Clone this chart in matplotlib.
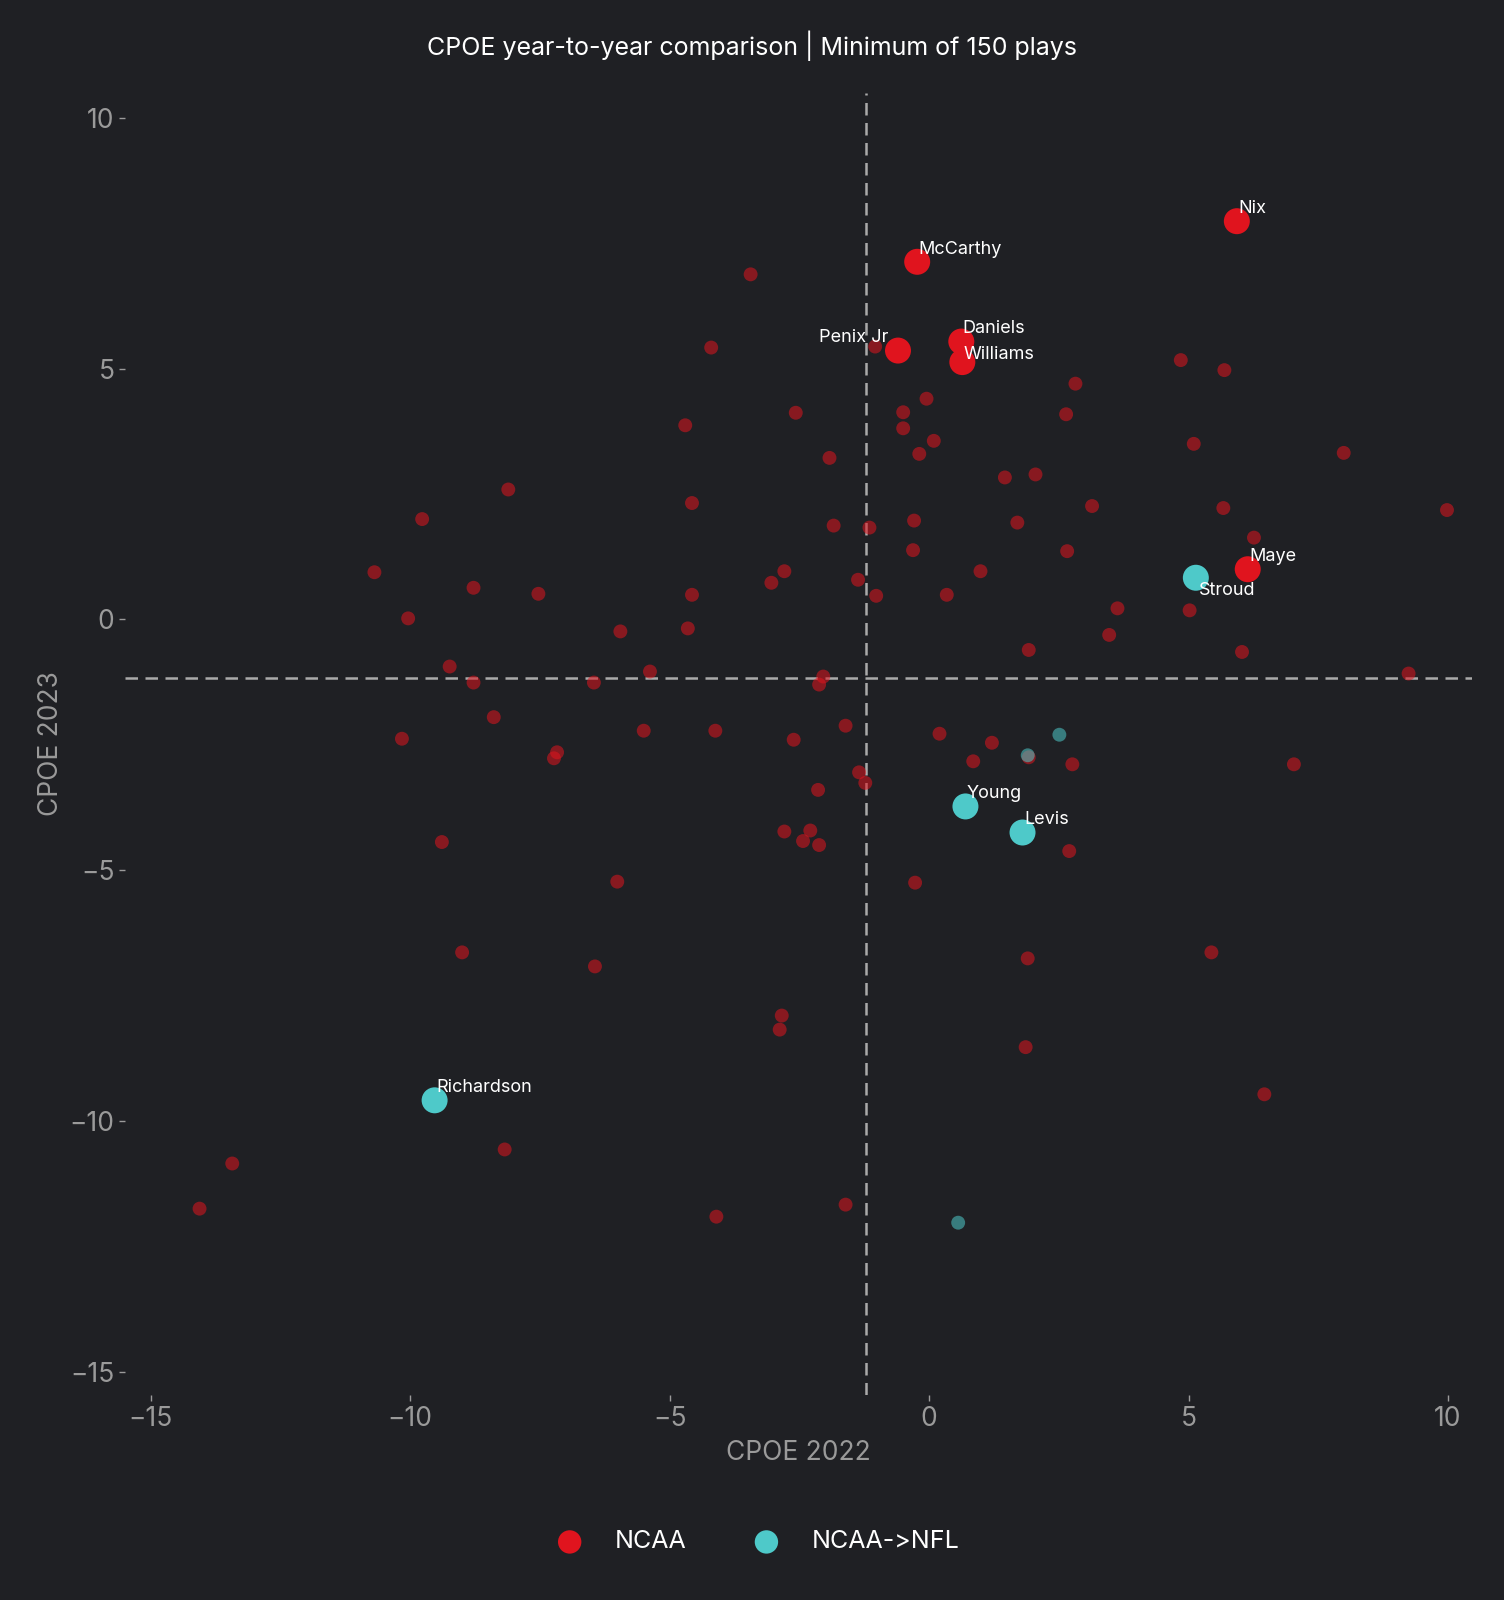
import matplotlib
matplotlib.use("Agg")
import matplotlib.pyplot as plt

plt.rcParams['font.family'] = ['Inter', 'DejaVu Sans']

# small NCAA points (CPOE 2022, CPOE 2023)
ncaa_x = [-3.44, -4.20, -1.04, -2.57, -4.70, -0.50, -0.50, -0.05, 0.09, -0.19, -1.92, 1.46, 2.05, 2.82, 2.64,
          5.10, 4.85, 5.69, 7.99, 9.98, 5.67, 6.26, 3.14, 1.70, 2.66, -0.29, -0.31, -1.15, -1.84, -4.57,
          -8.11, -9.77, -10.69, -8.78, -7.53, -10.04, -4.57, -5.95, -4.65, -2.79, -3.04, -1.37, -1.02, 0.34,
          0.99, 3.63, 5.02, 3.47, 1.92, 6.03, 9.24, -9.24, -8.78, -6.46, -5.38, -2.04, -2.12, -8.39, -10.16,
          -7.17, -7.23, -5.50, -4.12, -2.61, -1.61, 0.20, 1.21, 0.85, 1.92, 2.76, 7.03, -1.35, -1.23, -2.14,
          -9.39, -6.01, -2.79, -2.29, -2.43, -2.12, 2.70, -0.27, -9.00, -6.44, 1.90, 5.44, -2.84, -2.88,
          1.86, 6.46, -8.18, -13.43, -14.06, -4.10, -1.61]
ncaa_y = [6.88, 5.42, 5.44, 4.12, 3.87, 4.13, 3.81, 4.40, 3.56, 3.30, 3.22, 2.83, 2.89, 4.70, 4.09,
          3.50, 5.17, 4.97, 3.32, 2.18, 2.22, 1.63, 2.26, 1.93, 1.36, 1.97, 1.38, 1.83, 1.87, 2.32,
          2.59, 2.00, 0.94, 0.63, 0.51, 0.02, 0.49, -0.24, -0.18, 0.96, 0.73, 0.79, 0.47, 0.49,
          0.96, 0.22, 0.18, -0.31, -0.61, -0.65, -1.08, -0.94, -1.26, -1.26, -1.04, -1.14, -1.30, -1.95, -2.38,
          -2.65, -2.77, -2.22, -2.22, -2.40, -2.12, -2.28, -2.46, -2.83, -2.75, -2.89, -2.89, -3.05, -3.26, -3.40,
          -4.44, -5.23, -4.23, -4.21, -4.42, -4.50, -4.62, -5.25, -6.64, -6.92, -6.76, -6.64, -7.90, -8.18,
          -8.53, -9.47, -10.57, -10.85, -11.75, -11.91, -11.67]

# small NCAA->NFL points
nfl_x = [2.51, 1.90, 0.56]
nfl_y = [-2.30, -2.71, -12.03]

# highlighted players
hl_ncaa_names = ['Nix', 'McCarthy', 'Penix Jr', 'Daniels', 'Williams', 'Maye']
hl_ncaa_x = [5.93, -0.23, -0.60, 0.62, 0.64, 6.14]
hl_ncaa_y = [7.94, 7.13, 5.36, 5.54, 5.13, 1.00]
hl_nfl_names = ['Stroud', 'Young', 'Levis', 'Richardson']
hl_nfl_x = [5.14, 0.70, 1.80, -9.53]
hl_nfl_y = [0.83, -3.73, -4.25, -9.59]

median_x = -1.21
median_y = -1.16

BG = '#1f2024'
RED = '#e0141e'
TEAL = '#4ec9c9'
GREY = '#9a9a9a'

fig = plt.figure(figsize=(15.04, 16), dpi=100, facecolor=BG)
ax = fig.add_axes([0.083, 0.128, 0.896, 0.814], facecolor=BG)

ax.axvline(median_x, color='#aaaaaa', lw=1.8, dashes=(5, 3), zorder=1)
ax.axhline(median_y, color='#aaaaaa', lw=1.8, dashes=(5, 3), zorder=1)

ax.scatter(ncaa_x, ncaa_y, s=100, color=RED, alpha=0.55, edgecolors='none', zorder=2)
ax.scatter(nfl_x, nfl_y, s=100, color=TEAL, alpha=0.55, edgecolors='none', zorder=2)
ax.scatter(hl_ncaa_x, hl_ncaa_y, s=350, color=RED, edgecolors='none', zorder=3, label='NCAA')
ax.scatter(hl_nfl_x, hl_nfl_y, s=350, color=TEAL, edgecolors='none', zorder=3, label='NCAA->NFL')

offsets = {'Penix Jr': (-7, 3, 'right', 'bottom'), 'Stroud': (2, -3, 'left', 'top'),
           'Williams': (1, -1, 'left', 'bottom')}
for names, xs, ys in [(hl_ncaa_names, hl_ncaa_x, hl_ncaa_y), (hl_nfl_names, hl_nfl_x, hl_nfl_y)]:
    for n, x, y in zip(names, xs, ys):
        dx, dy, ha, va = offsets.get(n, (1, 3, 'left', 'bottom'))
        ax.annotate(n, (x, y), xytext=(dx, dy), textcoords='offset points',
                    ha=ha, va=va, color='white', fontsize=13, zorder=4)

ax.set_xlim(-15.5, 10.47)
ax.set_ylim(-15.47, 10.5)
ax.set_xticks([-15, -10, -5, 0, 5, 10])
ax.set_yticks([-15, -10, -5, 0, 5, 10])
for s in ax.spines.values():
    s.set_visible(False)
ax.tick_params(colors=GREY, labelsize=19, length=4, width=1)
ax.set_xlabel('CPOE 2022', color=GREY, fontsize=19, labelpad=6)
ax.set_ylabel('CPOE 2023', color=GREY, fontsize=19, labelpad=4)

fig.suptitle('CPOE year-to-year comparison | Minimum of 150 plays', color='white',
             fontsize=18, y=0.981)

leg = fig.legend(loc='lower center', bbox_to_anchor=(0.5, 0.015), ncol=2, frameon=False,
                 fontsize=18, labelcolor='white', markerscale=0.9, columnspacing=2.2)

fig.savefig('out.png', facecolor=BG)
